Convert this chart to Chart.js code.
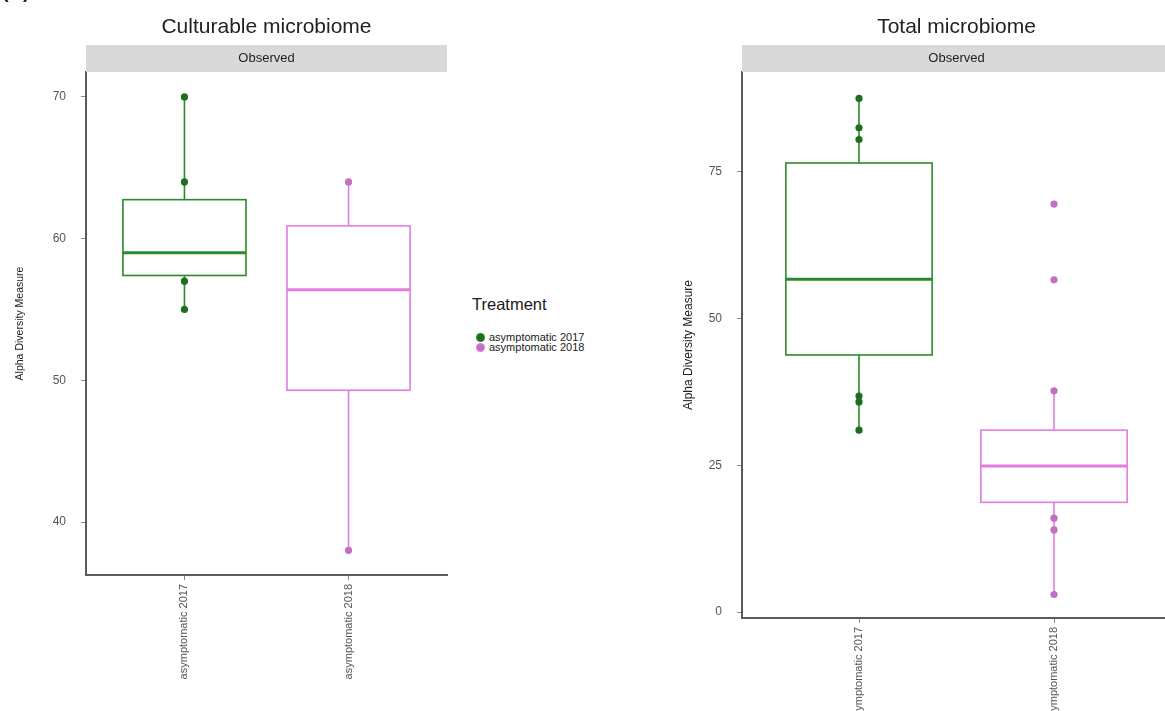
<!DOCTYPE html>
<html>
<head>
<meta charset="utf-8">
<script src="https://cdn.jsdelivr.net/npm/chart.js@4"></script>
<style>
  html, body { margin: 0; padding: 0; background: #fff; overflow: hidden; width: 1165px; height: 711px; position: relative; }
  #left { position: absolute; left: 0; top: 0; }
  #right { position: absolute; left: 660px; top: 0; }
  #legend { position: absolute; left: 472px; top: 295px; font-family: "Liberation Sans", Arial, sans-serif; color: #1a1a1a; }
  #legend .lt { font-size: 16.5px; line-height: 18px; height: 18px; margin-bottom: 19px; }
  #legend .item { font-size: 11px; line-height: 10px; height: 10px; white-space: nowrap; display: flex; align-items: center; }
  #legend .dot { display: inline-block; width: 7px; height: 7px; border-radius: 50%; margin: 0 5px 0 5px; }
</style>
</head>
<body>
<canvas id="left" width="460" height="711"></canvas>
<canvas id="right" width="540" height="711"></canvas>
<div id="legend"></div>
<script>
const groups = ['asymptomatic 2017', 'asymptomatic 2018'];
const lineColors = ['#2b8a2b', '#e07de0'];
const pointColors = ['#1f6e1f', '#c46fc4'];

// Culturable microbiome (Observed)
const cultLow = [55, 38];
const cultQ1 = [57.4, 49.3];
const cultMedian = [59, 56.4];
const cultQ3 = [62.75, 60.9];
const cultHigh = [70, 64];
const cultPoints2017 = [70, 64, 57, 55];
const cultPoints2018 = [64, 38];
const cultTicks = [40, 50, 60, 70];

// Total microbiome (Observed)
const totalLow = [31, 3];
const totalQ1 = [43.8, 18.7];
const totalMedian = [56.7, 24.9];
const totalQ3 = [76.5, 31];
const totalHigh = [87.5, 37.7];
const totalPoints2017 = [87.5, 82.5, 80.5, 36.8, 35.8, 31];
const totalPoints2018 = [69.5, 56.6, 37.7, 16, 14, 3];
const totalTicks = [0, 25, 50, 75];

const FONT = '"Liberation Sans", Arial, sans-serif';
const boxWidth = 0.75;

function boxPlugin(stats, title, corner) {
  return {
    id: 'boxes',
    beforeDatasetsDraw(chart) {
      const { ctx, scales: { x, y } } = chart;
      ctx.save();
      stats.low.forEach((lo, i) => {
        const cx = x.getPixelForValue(i + 1);
        const l = x.getPixelForValue(i + 1 - boxWidth / 2);
        const r = x.getPixelForValue(i + 1 + boxWidth / 2);
        const top = y.getPixelForValue(stats.q3[i]);
        const bot = y.getPixelForValue(stats.q1[i]);
        ctx.strokeStyle = lineColors[i];
        ctx.lineWidth = 1.6;
        ctx.beginPath();
        ctx.moveTo(cx, y.getPixelForValue(stats.high[i]));
        ctx.lineTo(cx, top);
        ctx.moveTo(cx, bot);
        ctx.lineTo(cx, y.getPixelForValue(lo));
        ctx.stroke();
        ctx.fillStyle = '#fff';
        ctx.fillRect(l, top, r - l, bot - top);
        ctx.strokeRect(l, top, r - l, bot - top);
        const m = y.getPixelForValue(stats.med[i]);
        ctx.lineWidth = 3;
        ctx.beginPath();
        ctx.moveTo(l, m);
        ctx.lineTo(r, m);
        ctx.stroke();
      });
      ctx.restore();
    },
    afterDraw(chart) {
      const { ctx, chartArea: a } = chart;
      ctx.save();
      ctx.textAlign = 'center';
      ctx.textBaseline = 'middle';
      ctx.fillStyle = '#222';
      ctx.font = '21px ' + FONT;
      ctx.fillText(title, (a.left + a.right) / 2, 27);
      ctx.fillStyle = '#d9d9d9';
      ctx.fillRect(a.left, a.top - 27, a.right - a.left, 27);
      ctx.fillStyle = '#222';
      ctx.font = '13px ' + FONT;
      ctx.fillText('Observed', (a.left + a.right) / 2, a.top - 13.5);
      if (corner) {
        ctx.textAlign = 'left';
        ctx.textBaseline = 'alphabetic';
        ctx.font = 'bold 20px ' + FONT;
        ctx.fillText(corner, 2, -2);
      }
      ctx.restore();
    }
  };
}

function makeChart(id, cfg) {
  const datasets = [cfg.points2017, cfg.points2018].map((pts, i) => ({
    label: groups[i],
    data: pts.map(v => ({ x: i + 1, y: v })),
    backgroundColor: pointColors[i],
    borderWidth: 0,
    pointRadius: 3.6
  }));
  return new Chart(document.getElementById(id), {
    type: 'scatter',
    data: { datasets },
    options: {
      responsive: false,
      animation: false,
      layout: { padding: { top: 72, right: cfg.padRight, left: 0, bottom: 0 } },
      plugins: { legend: { display: false }, tooltip: { enabled: false } },
      scales: {
        x: {
          type: 'linear',
          min: 0.4,
          max: 2.6,
          afterBuildTicks: s => { s.ticks = [{ value: 1 }, { value: 2 }]; },
          afterFit: s => { s.height = cfg.xHeight; },
          grid: { drawOnChartArea: false, color: '#888', tickLength: 5 },
          border: { color: '#5a5a5a', width: 2 },
          ticks: {
            autoSkip: false,
            maxRotation: 90,
            minRotation: 90,
            padding: 4,
            color: '#555',
            font: { family: FONT, size: 11 },
            callback: v => groups[v - 1]
          }
        },
        y: {
          min: cfg.yMin,
          max: cfg.yMax,
          afterBuildTicks: s => { s.ticks = cfg.ticks.map(v => ({ value: v })); },
          afterFit: s => { s.width = cfg.yWidth; },
          grid: { drawOnChartArea: false, color: '#888', tickLength: 5 },
          border: { color: '#5a5a5a', width: 2 },
          ticks: { padding: 15, color: '#555', font: { family: FONT, size: 12 } },
          title: {
            display: true,
            text: 'Alpha Diversity Measure',
            color: '#222',
            font: { family: FONT, size: cfg.yTitleSize },
            padding: { top: cfg.yTitlePad, bottom: 0 }
          }
        }
      }
    },
    plugins: [boxPlugin(cfg.stats, cfg.title, cfg.corner)]
  });
}

makeChart('left', {
  title: 'Culturable microbiome',
  corner: '(A)',
  points2017: cultPoints2017,
  points2018: cultPoints2018,
  stats: { low: cultLow, q1: cultQ1, med: cultMedian, q3: cultQ3, high: cultHigh },
  ticks: cultTicks,
  yMin: 36.26, yMax: 71.76,
  yWidth: 86, xHeight: 136, padRight: 13,
  yTitleSize: 10.5, yTitlePad: 14
});

makeChart('right', {
  title: 'Total microbiome',
  points2017: totalPoints2017,
  points2018: totalPoints2018,
  stats: { low: totalLow, q1: totalQ1, med: totalMedian, q3: totalQ3, high: totalHigh },
  ticks: totalTicks,
  yMin: -1.0, yMax: 92.0,
  yWidth: 82, xHeight: 93, padRight: 29,
  yTitleSize: 12, yTitlePad: 21
});

// legend
const legend = document.getElementById('legend');
legend.innerHTML = '<div class="lt">Treatment</div>' + groups.map((g, i) =>
  '<div class="item"><span class="dot" style="background:' + pointColors[i] +
  ';box-shadow:0 0 0 1px ' + lineColors[i] + '"></span>' + g + '</div>').join('');
</script>
</body>
</html>
